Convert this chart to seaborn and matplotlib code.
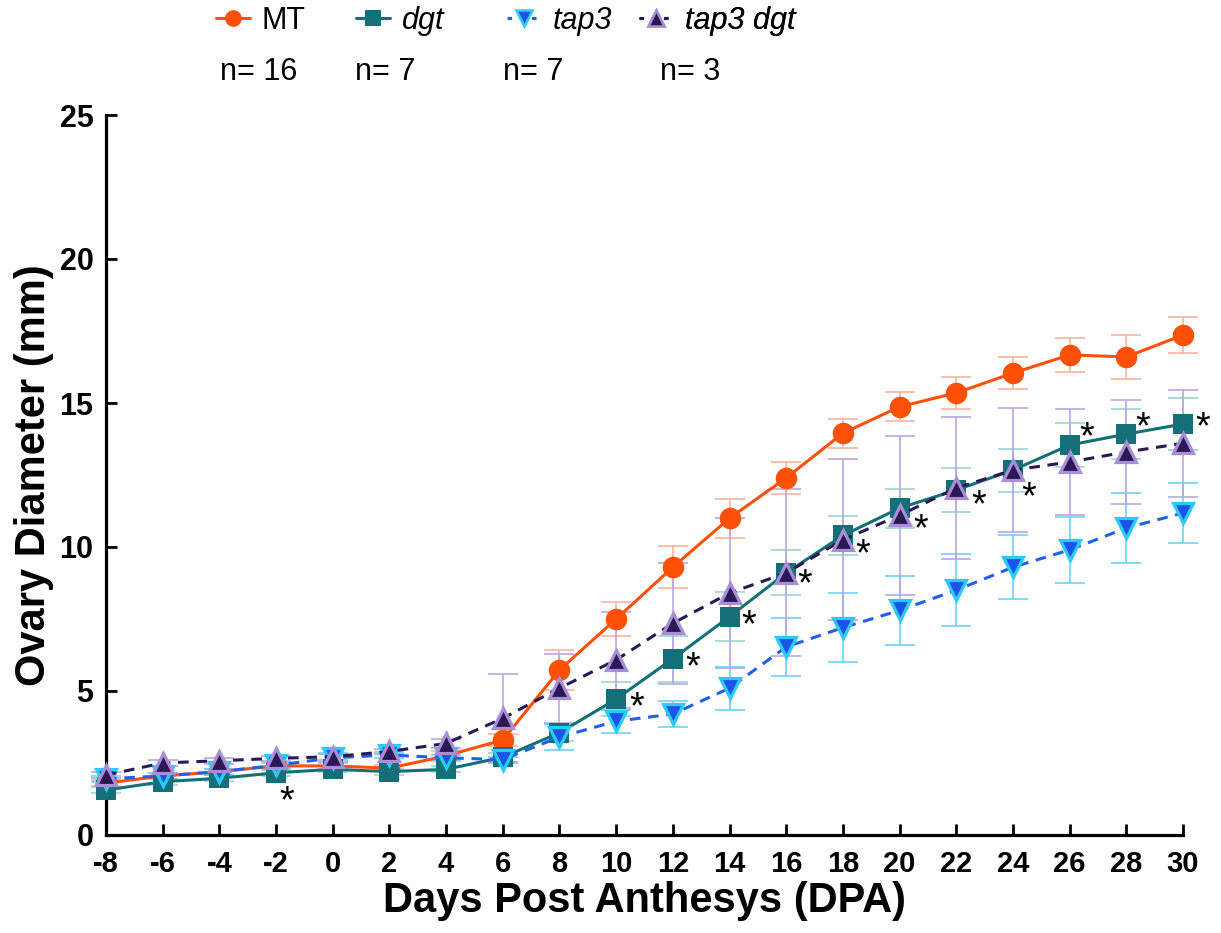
import matplotlib
matplotlib.use("Agg")
import matplotlib.pyplot as plt
import seaborn as sns
import numpy as np
import pandas as pd
from matplotlib.lines import Line2D

# ---------------- data ----------------
days = [-8, -6, -4, -2, 0, 2, 4, 6, 8, 10, 12, 14, 16, 18, 20, 22, 24, 26, 28, 30]

mt = [1.8, 2.05, 2.2, 2.4, 2.4, 2.32, 2.75, 3.3, 5.73, 7.5, 9.3, 11.0, 12.4, 13.95,
      14.87, 15.35, 16.04, 16.67, 16.6, 17.36]
mt_sd = [0.1, 0.1, 0.1, 0.1, 0.1, 0.1, 0.15, 0.2, 0.7, 0.6, 0.72, 0.68, 0.55, 0.5,
         0.5, 0.55, 0.55, 0.6, 0.75, 0.62]

dgt = [1.56, 1.85, 1.97, 2.16, 2.28, 2.2, 2.28, 2.7, 3.55, 4.72, 6.12, 7.58, 9.1, 10.4,
       11.35, 11.98, 12.67, 13.54, 13.92, 14.27]
dgt_sd = [0.1, 0.1, 0.1, 0.1, 0.1, 0.1, 0.1, 0.15, 0.3, 0.6, 0.8, 0.85, 0.78, 0.67,
          0.68, 0.75, 0.75, 0.75, 0.87, 0.9]

tap3 = [1.95, 2.05, 2.2, 2.42, 2.68, 2.78, 2.68, 2.62, 3.4, 3.95, 4.2, 5.1, 6.53, 7.2,
        7.8, 8.5, 9.3, 9.9, 10.66, 11.18]
tap3_sd = [0.1, 0.1, 0.1, 0.1, 0.15, 0.1, 0.1, 0.1, 0.45, 0.4, 0.45, 0.75, 1.0, 1.2,
           1.2, 1.25, 1.1, 1.15, 1.2, 1.05]

tap3dgt = [2.08, 2.5, 2.58, 2.66, 2.72, 2.9, 3.18, 4.05, 5.1, 6.08, 7.35, 8.4, 9.1, 10.25,
           11.1, 12.05, 12.67, 12.95, 13.3, 13.6]
tap3dgt_sd = [0.1, 0.1, 0.1, 0.1, 0.1, 0.1, 0.15, 1.55, 1.2, 1.67, 2.1, 2.6, 2.9, 2.8,
              2.75, 2.45, 2.15, 1.85, 1.8, 1.85]

series_names = ["MT", "dgt", "tap3", "tap3 dgt"]
n_labels = ["n= 16", "n= 7", "n= 7", "n= 3"]

# days where dgt differs significantly (asterisks)
star_days = [-2, 10, 12, 14, 16, 18, 20, 22, 24, 26, 28, 30]

# ---------------- style ----------------
sns.set_style("ticks")
plt.rcParams["font.family"] = ["Liberation Sans", "DejaVu Sans"]
plt.rcParams["text.color"] = "black"
plt.rcParams["axes.labelcolor"] = "black"
plt.rcParams["xtick.color"] = "black"
plt.rcParams["ytick.color"] = "black"

fig = plt.figure(figsize=(12.21, 9.33), dpi=100)
ax = fig.add_axes([106 / 1221, 1 - 835 / 933, (1183 - 106) / 1221, (835 - 115) / 933])

styles = {
    "MT": dict(color="#FF5008", marker="o", ms=15.5, mfc="#FF5008", mec="#FF5008",
               mew=0, ls="-", ecol="#F9B5A0"),
    "dgt": dict(color="#137078", marker="s", ms=15, mfc="#137078", mec="#137078",
                mew=0, ls="-", ecol="#9AD6D4"),
    "tap3": dict(color="#2060F0", marker="v", ms=14.5, mfc="#1B55E8", mec="#2ACBF7",
                 mew=2.3, ls=(0, (3.5, 2.5)), ecol="#6CD3F7"),
    "tap3 dgt": dict(color="#2B1955", marker="^", ms=14.5, mfc="#2B1955", mec="#A88ED6",
                     mew=2.3, ls=(0, (3.5, 2.5)), ecol="#BBA6E2"),
}
values = {"MT": (mt, mt_sd), "dgt": (dgt, dgt_sd), "tap3": (tap3, tap3_sd),
          "tap3 dgt": (tap3dgt, tap3dgt_sd)}

# error bars (behind)
for name in series_names:
    y, sd = values[name]
    st = styles[name]
    ax.errorbar(days, y, yerr=sd, fmt="none", ecolor=st["ecol"], elinewidth=1.2,
                capsize=11, capthick=1.2, zorder=1, clip_on=False)

# lines + markers via seaborn
for i, name in enumerate(series_names):
    y, sd = values[name]
    st = styles[name]
    df = pd.DataFrame({"day": days, "val": y})
    sns.lineplot(data=df, x="day", y="val", ax=ax, color=st["color"], lw=2.2,
                 linestyle=st["ls"], marker=st["marker"], markersize=st["ms"],
                 markerfacecolor=st["mfc"], markeredgecolor=st["mec"],
                 markeredgewidth=st["mew"], zorder=3 + i, clip_on=False)

# asterisks for dgt
star_offsets = {-2: (8, -14), 10: (15, 0), 12: (14, 0), 14: (14, 0), 16: (13, -2),
                18: (14, -7), 20: (15, -9), 22: (16, -5), 24: (11, -13),
                26: (12, 12), 28: (12, 11), 30: (14, 4)}
for d in star_days:
    yv = dgt[days.index(d)]
    dx, dy = star_offsets[d]
    ax.annotate("*", xy=(d, yv), xytext=(dx, dy - 7), textcoords="offset points",
                ha="center", va="center", fontsize=27, color="black", zorder=10,
                annotation_clip=False)

# axes
ax.set_xlim(-8, 30)
ax.set_ylim(0, 25)
ax.set_xticks(days)
ax.set_xticklabels([str(d) for d in days])
ax.set_yticks([0, 5, 10, 15, 20, 25])
sns.despine(ax=ax)
for sp in ["left", "bottom"]:
    ax.spines[sp].set_linewidth(2.3)
    ax.spines[sp].set_color("black")
ax.tick_params(axis="both", direction="in", length=8, width=2.0, colors="black")
ax.tick_params(axis="x", pad=11, labelsize=21)
ax.tick_params(axis="y", pad=9, labelsize=22)
for lab in ax.get_xticklabels() + ax.get_yticklabels():
    lab.set_fontweight("bold")
    lab.set_color("black")
ax.set_xlabel("Days Post Anthesys (DPA)", fontsize=30, fontweight="bold", labelpad=2,
              color="black")
ax.set_ylabel("Ovary Diameter (mm)", fontsize=30, fontweight="bold", labelpad=4,
              color="black")
ax.grid(False)

# legend (one entry per column, positioned manually)
text_starts = [262, 402, 553, 685]
n_starts = [220, 355, 503, 660]
fs = 22
for i, name in enumerate(series_names):
    st = styles[name]
    h = Line2D([0], [0], color=st["color"], lw=2.2, ls="-" if st["ls"] == "-" else (0, (1.5, 2.5)),
               marker=st["marker"], ms=12, mfc=st["mfc"], mec=st["mec"],
               mew=min(st["mew"], 1.8))
    anchor_x = (text_starts[i] - 46) / 1221
    leg = ax.legend([h], [name], loc="center left",
                    bbox_to_anchor=(anchor_x, 1 - 21 / 933), bbox_transform=fig.transFigure,
                    frameon=False, fontsize=fs, handlelength=1.1, handletextpad=0.4,
                    borderpad=0, borderaxespad=0, labelcolor="black")
    if i > 0:
        for t in leg.get_texts():
            t.set_style("italic")
    ax.add_artist(leg)
    fig.text(n_starts[i] / 1221, 1 - 72 / 933, n_labels[i], fontsize=fs,
             ha="left", va="center", color="black")

fig.savefig("out.png", dpi=100)
